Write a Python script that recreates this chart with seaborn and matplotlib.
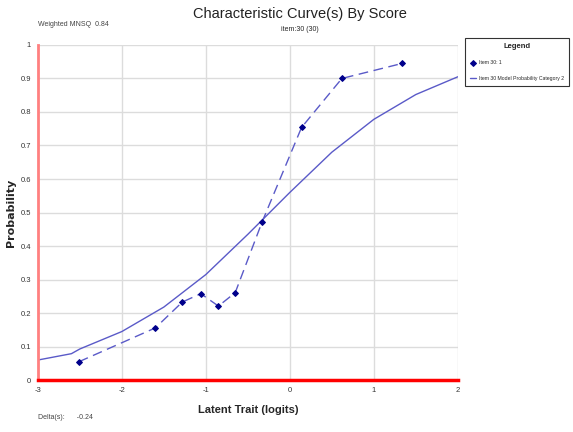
import pandas as pd
import matplotlib
matplotlib.use('Agg')
import matplotlib.pyplot as plt
import seaborn as sns

# Data
obs_x = [-2.51, -1.60, -1.28, -1.06, -0.85, -0.65, -0.33, 0.14, 0.62, 1.34]
obs_y = [0.055, 0.156, 0.233, 0.258, 0.221, 0.261, 0.472, 0.754, 0.900, 0.945]

model_x = [-3.0, -2.6, -2.5, -2.0, -1.5, -1.0, -0.5, 0.0, 0.5, 1.0, 1.5, 2.0]
model_y = [0.060, 0.079, 0.093, 0.145, 0.218, 0.315, 0.435, 0.560, 0.680, 0.778, 0.852, 0.905]

df_obs = pd.DataFrame({"x": obs_x, "y": obs_y})
df_model = pd.DataFrame({"x": model_x, "y": model_y})

sns.set_theme(style="whitegrid")
plt.rcParams['font.family'] = ['Liberation Sans', 'DejaVu Sans']
plt.rcParams['axes.unicode_minus'] = False

fig = plt.figure(figsize=(5.73, 4.32), dpi=100)
ax = fig.add_axes([0.066, 0.120, 0.733, 0.776])

line_col = "#5a5ac8"
mark_col = "#00008b"

sns.lineplot(data=df_model, x="x", y="y", ax=ax, color=line_col, linewidth=1.0,
             label="Item 30 Model Probability Category 2", sort=False)
sns.lineplot(data=df_obs, x="x", y="y", ax=ax, color=line_col, linewidth=1.0,
             linestyle=(0, (7, 4)), marker="D", markersize=3,
             markerfacecolor=mark_col, markeredgecolor=mark_col,
             label="Item 30: 1", sort=False)

ax.set_xlim(-3, 2)
ax.set_ylim(0, 1)
ax.set_xticks([-3, -2, -1, 0, 1, 2])
ax.set_yticks([0, 0.1, 0.2, 0.3, 0.4, 0.5, 0.6, 0.7, 0.8, 0.9, 1])
ax.set_yticklabels(["0", "0.1", "0.2", "0.3", "0.4", "0.5", "0.6", "0.7", "0.8", "0.9", "1"])
ax.tick_params(axis="both", labelsize=5.5, length=3, width=1.5, color="red", pad=2,
               labelcolor="#333333")
ax.grid(True, color="#dcdcdc", linewidth=1)

for s in ["top", "right"]:
    ax.spines[s].set_visible(False)
ax.spines["left"].set_color("#ff8080")
ax.spines["left"].set_linewidth(2)
ax.spines["bottom"].set_color("red")
ax.spines["bottom"].set_linewidth(2.5)

ax.set_xlabel("Latent Trait (logits)", fontsize=8, fontweight="bold")
ax.xaxis.set_label_coords(0.5, -0.075)
ax.set_ylabel("Probability", fontsize=8, fontweight="bold", family=['DejaVu Sans'])
ax.yaxis.set_label_coords(-0.052, 0.5)

# Legend: data series first
handles, labels = ax.get_legend_handles_labels()
leg = ax.legend(handles[::-1], labels[::-1], title="Legend", loc="upper left",
                bbox_to_anchor=(1.017, 1.021), fontsize=3.7, title_fontsize=5.5,
                frameon=True, fancybox=False, edgecolor="black",
                handlelength=1.3, handletextpad=0.5, borderpad=0.9,
                labelspacing=2.1, borderaxespad=0)
leg.get_frame().set_linewidth(0.8)
leg.get_title().set_fontweight("bold")

fig.text(0.524, 0.967, "Characteristic Curve(s) By Score", ha="center", va="center",
         fontsize=10.5, color="#222222")
fig.text(0.524, 0.931, "item:30 (30)", ha="center", va="center", fontsize=5)
fig.text(0.066, 0.943, "Weighted MNSQ  0.84", ha="left", va="center", fontsize=5,
         color="#444444")
fig.text(0.066, 0.033, "Delta(s):      -0.24", ha="left", va="center", fontsize=5,
         color="#444444")

plt.savefig("out.png", dpi=100)
plt.close()
